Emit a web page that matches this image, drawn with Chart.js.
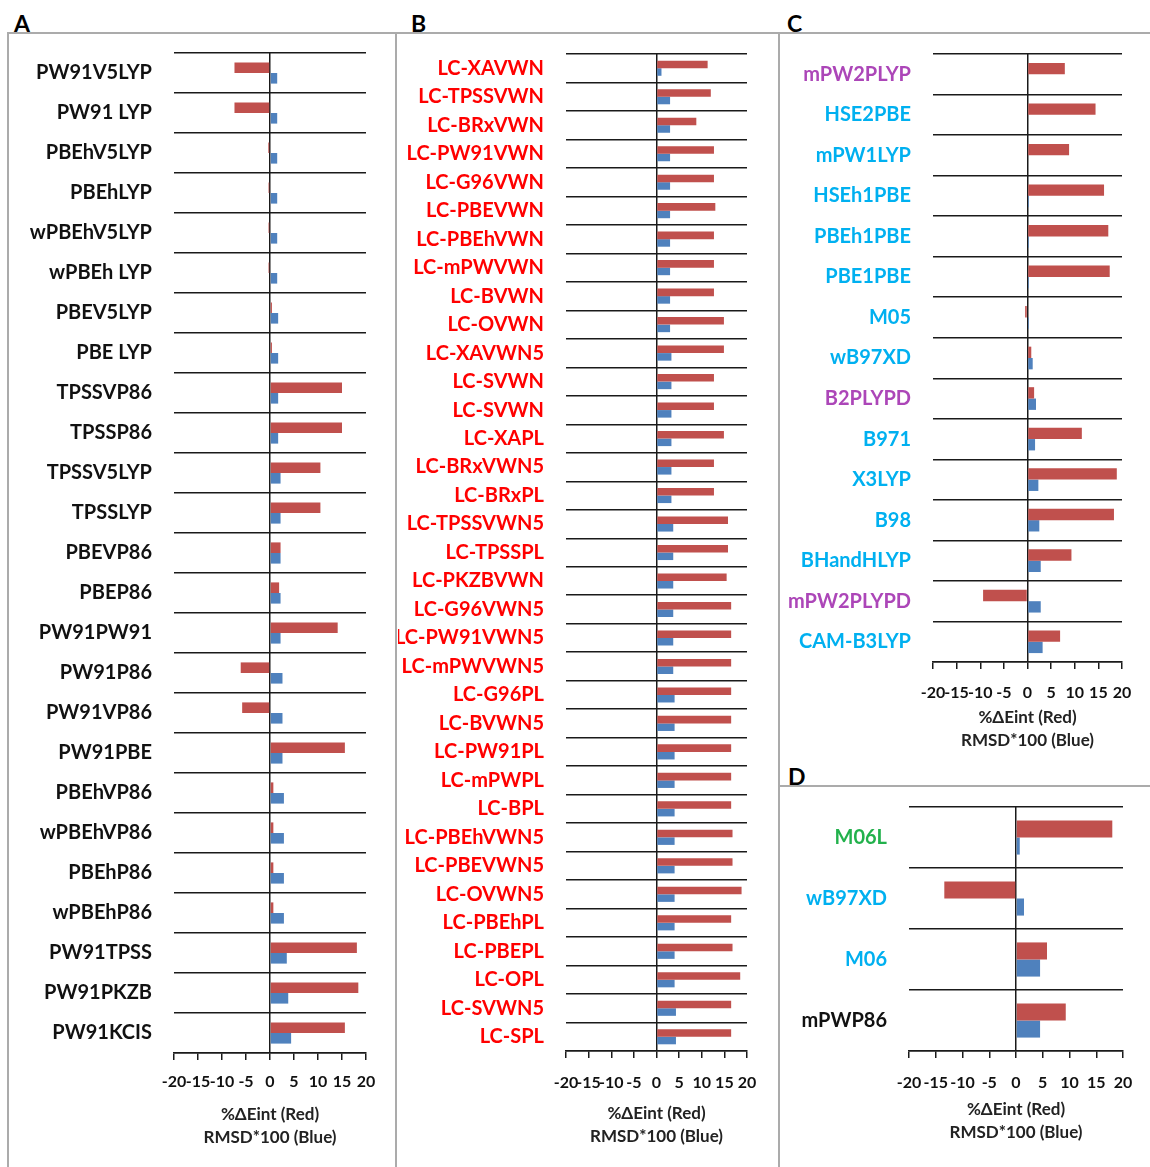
<!DOCTYPE html>
<html><head><meta charset="utf-8">
<script src="https://cdn.jsdelivr.net/npm/chart.js@4.4.1/dist/chart.umd.min.js"></script>
<style>
html,body{margin:0;padding:0;background:#fff;}
body{width:1150px;height:1167px;overflow:hidden;position:relative;font-family:Lato,sans-serif;}
.frame{position:absolute;background:#ababab;}
.letter{position:absolute;font-weight:bold;font-size:23px;line-height:23px;color:#000;font-family:Lato,sans-serif;}
canvas{position:absolute;}
</style></head><body>
<div class="frame" style="left:7px;top:32px;width:1143px;height:2px"></div>
<div class="frame" style="left:7px;top:32px;width:2px;height:1135px"></div>
<div class="frame" style="left:395px;top:32px;width:2px;height:1135px"></div>
<div class="frame" style="left:778px;top:32px;width:2px;height:1135px"></div>
<div class="frame" style="left:778px;top:785px;width:372px;height:2px"></div>
<div class="letter" style="left:14px;top:12px">A</div>
<div class="letter" style="left:411px;top:12px">B</div>
<div class="letter" style="left:787px;top:12px">C</div>
<div class="letter" style="left:788px;top:765px">D</div>
<script>
// ---------- Panel A ----------
const labelsA = ['PW91V5LYP','PW91 LYP','PBEhV5LYP','PBEhLYP','wPBEhV5LYP','wPBEh LYP','PBEV5LYP','PBE LYP','TPSSVP86','TPSSP86','TPSSV5LYP','TPSSLYP','PBEVP86','PBEP86','PW91PW91','PW91P86','PW91VP86','PW91PBE','PBEhVP86','wPBEhVP86','PBEhP86','wPBEhP86','PW91TPSS','PW91PKZB','PW91KCIS'];
const redA  = [-7.4,-7.4,-0.35,-0.3,-0.3,-0.3,0.4,0.4,15.0,15.0,10.5,10.5,2.2,1.9,14.1,-6.1,-5.8,15.6,0.7,0.7,0.7,0.7,18.1,18.4,15.6];
const blueA = [1.5,1.5,1.5,1.5,1.5,1.5,1.7,1.7,1.7,1.7,2.2,2.2,2.2,2.2,2.2,2.6,2.6,2.6,2.9,2.9,2.9,2.9,3.5,3.8,4.4];

// ---------- Panel B ----------
const labelsB = ['LC-XAVWN','LC-TPSSVWN','LC-BRxVWN','LC-PW91VWN','LC-G96VWN','LC-PBEVWN','LC-PBEhVWN','LC-mPWVWN','LC-BVWN','LC-OVWN','LC-XAVWN5','LC-SVWN','LC-SVWN','LC-XAPL','LC-BRxVWN5','LC-BRxPL','LC-TPSSVWN5','LC-TPSSPL','LC-PKZBVWN','LC-G96VWN5','LC-PW91VWN5','LC-mPWVWN5','LC-G96PL','LC-BVWN5','LC-PW91PL','LC-mPWPL','LC-BPL','LC-PBEhVWN5','LC-PBEVWN5','LC-OVWN5','LC-PBEhPL','LC-PBEPL','LC-OPL','LC-SVWN5','LC-SPL'];
const redB  = [11.3,12.0,8.8,12.7,12.7,13.0,12.7,12.7,12.7,14.9,14.9,12.7,12.7,14.9,12.7,12.7,15.8,15.8,15.5,16.5,16.5,16.5,16.5,16.5,16.5,16.5,16.5,16.8,16.8,18.8,16.5,16.8,18.5,16.5,16.5];
const blueB = [1.1,3.0,3.0,3.0,3.0,3.0,3.0,3.0,3.0,3.0,3.3,3.3,3.3,3.3,3.3,3.3,3.7,3.7,3.7,3.7,3.7,3.7,4.0,4.0,4.0,4.0,4.0,4.0,4.0,4.0,4.0,4.0,4.0,4.3,4.3];

// ---------- Panel C ----------
const labelsC = ['mPW2PLYP','HSE2PBE','mPW1LYP','HSEh1PBE','PBEh1PBE','PBE1PBE','M05','wB97XD','B2PLYPD','B971','X3LYP','B98','BHandHLYP','mPW2PLYPD','CAM-B3LYP'];
const redC  = [7.9,14.4,8.8,16.2,17.1,17.4,-0.5,0.8,1.4,11.5,18.9,18.3,9.3,-9.4,6.9];
const blueC = [0,0,0,0.3,0.3,0.3,0.3,1.1,1.8,1.6,2.3,2.5,2.8,2.8,3.2];

// ---------- Panel D ----------
const labelsD = ['M06L','wB97XD','M06','mPWP86'];
const redD  = [18.0,-13.4,5.8,9.3];
const blueD = [0.7,1.5,4.5,4.5];

const axisTitle = ['%ΔEint (Red)','RMSD*100 (Blue)'];

// label colour styles (kept separate from the data)
const BLACK = '#111111', RED = '#FF0000', CYAN = '#00B0F0', PURPLE = '#AC46B8', GREEN = '#22B14C';
const colorsA = labelsA.map(() => BLACK);
const colorsB = labelsB.map(() => RED);
const colorsC = [PURPLE,CYAN,CYAN,CYAN,CYAN,CYAN,CYAN,CYAN,PURPLE,CYAN,CYAN,CYAN,CYAN,PURPLE,CYAN];
const colorsD = [GREEN,CYAN,CYAN,BLACK];

Chart.defaults.font.family = 'Lato, sans-serif';

function zeroPad(s) { s.paddingTop = 0; s.paddingBottom = 0; s.paddingLeft = 0; s.paddingRight = 0; }

function panel(rect, area, labels, red, blue, colors, o) {
  const c = document.createElement('canvas');
  c.width = rect.w; c.height = rect.h;
  c.style.left = rect.l + 'px'; c.style.top = rect.t + 'px';
  c.style.width = rect.w + 'px'; c.style.height = rect.h + 'px';
  document.body.appendChild(c);
  const lineCol = '#1a1a1a';
  new Chart(c, {
    type: 'bar',
    data: {
      labels: labels,
      datasets: [
        {data: red, backgroundColor: '#C0504D', categoryPercentage: o.cat, barPercentage: 1, borderWidth: 0},
        {data: blue, backgroundColor: '#4F81BD', categoryPercentage: o.cat, barPercentage: 1, borderWidth: 0}
      ]
    },
    options: {
      indexAxis: 'y', responsive: false, animation: false, devicePixelRatio: 1,
      layout: {padding: {left: 0, top: area.t - rect.t, right: rect.l + rect.w - area.r, bottom: 0}},
      plugins: {legend: {display: false}, tooltip: {enabled: false}},
      scales: {
        x: {
          type: 'linear', min: -20, max: 20, position: 'bottom',
          afterFit: s => { s.height = rect.t + rect.h - area.b; zeroPad(s); },
          ticks: {stepSize: 5, autoSkip: false, maxRotation: 0, minRotation: 0, padding: o.tickPad,
                  color: '#111', font: {size: 16, weight: 'bold'}},
          grid: {color: ctx => (ctx.tick && ctx.tick.value === 0) ? lineCol : 'rgba(0,0,0,0)',
                 tickColor: lineCol, tickLength: 7, lineWidth: 1.5},
          border: {display: true, color: lineCol, width: 1.5},
          title: {display: true, text: axisTitle, color: '#222',
                  font: {size: 17, weight: 'bold', lineHeight: '23px'},
                  padding: {top: 0, bottom: o.titlePad}}
        },
        y: {
          type: 'category', position: 'left', offset: true,
          afterFit: s => { s.width = area.l - rect.l; zeroPad(s); },
          ticks: {autoSkip: false, padding: 22, color: ctx => colors[ctx.index],
                  font: {size: 20, weight: 'bold'}},
          grid: {offset: true, drawTicks: false, color: lineCol, lineWidth: 1.5},
          border: {display: false}
        }
      }
    }
  });
}

panel({l:10, t:35, w:385, h:1132}, {l:174, r:366, t:53, b:1053}, labelsA, redA, blueA, colorsA, {cat:0.53, tickPad:12, titlePad:17.5});
panel({l:398, t:35, w:380, h:1132}, {l:566, r:747, t:54, b:1051}, labelsB, redB, blueB, colorsB, {cat:0.53, tickPad:15, titlePad:18.5});
panel({l:781, t:35, w:369, h:750}, {l:933, r:1122, t:54, b:662}, labelsC, redC, blueC, colorsC, {cat:0.56, tickPad:14.4, titlePad:32.5});
panel({l:781, t:788, w:369, h:379}, {l:909, r:1123, t:807, b:1051}, labelsD, redD, blueD, colorsD, {cat:0.56, tickPad:15, titlePad:22.5});
</script>
</body></html>
